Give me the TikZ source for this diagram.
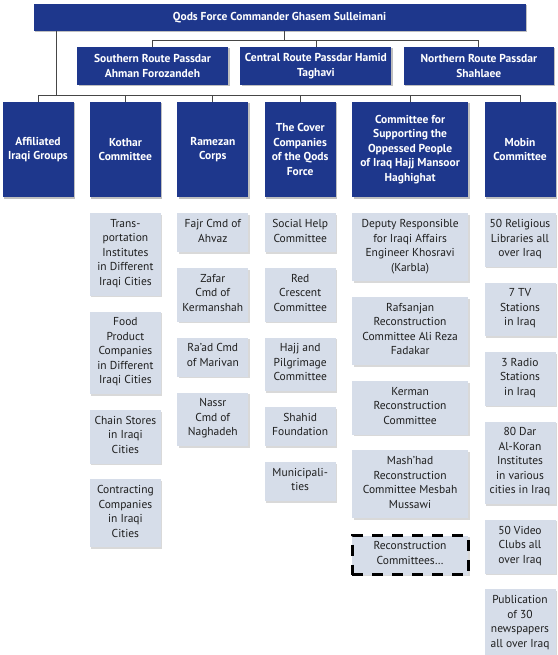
\documentclass[tikz,border=0pt]{standalone}
\usepackage{fontspec}
\setmainfont{PT Sans}
\usepackage{xcolor}
\usepackage{tikz}
\usetikzlibrary{positioning, shadows}
\definecolor{qodsnavy}{RGB}{30, 55, 140}
\definecolor{unitbg}{RGB}{214, 221, 233}
\definecolor{wiregray}{RGB}{70, 70, 70}
\definecolor{textgray}{RGB}{30, 30, 30}

\begin{document}
\begin{tikzpicture}[
    x=1pt, y=-1pt, node distance=15.5pt,
    headbox/.style={rectangle, fill=qodsnavy, text=white, align=center, inner sep=0pt, font=\fontsize{11.5}{14.5}\selectfont\bfseries, drop shadow={shadow xshift=1.5pt, shadow yshift=-1.5pt, fill=black, opacity=0.25}},
    routebox/.style={headbox, minimum width=151pt, minimum height=38pt},
    groupbox/.style={headbox, minimum width=71pt, minimum height=95pt},
    unitbox/.style={rectangle, fill=unitbg, text=textgray, align=center, inner xsep=2pt, inner ysep=6pt, minimum width=71pt, font=\fontsize{11.5}{14.5}\selectfont, execute at begin node=\strut, execute at end node=\strut, drop shadow={shadow xshift=1.5pt, shadow yshift=-1.5pt, fill=black, opacity=0.15}},
    openbox/.style={unitbox, minimum width=116pt, draw=black, line width=3pt, dash pattern=on 11pt off 9pt, drop shadow={opacity=0}},
    wire/.style={draw, wiregray, line width=0.8pt}
  ]
    \useasboundingbox (0,0) rectangle (557,655);

    % commander and the three routes
    \node (top) [headbox, minimum width=492pt, minimum height=27pt] at (279.5,17.5) {Qods Force Commander Ghasem Sulleimani};
    \node (south) [routebox] at (152.5,66) {Southern Route Passdar\\Ahman Forozandeh};
    \node (central) [routebox, right=12pt of south] {Central Route Passdar Hamid\\Taghavi};
    \node (north) [routebox, minimum width=150pt, right=12pt of central] {Northern Route Passdar\\Shahlaee};

    % the six groups
    \node (affil) [groupbox] at (38,149.5) {Affiliated\\Iraqi Groups};
    \node (kothar) [groupbox, right=16pt of affil] {Kothar\\Committee};
    \node (ramezan) [groupbox, right=16pt of kothar] {Ramezan\\Corps};
    \node (cover) [groupbox, right=16pt of ramezan] {The Cover\\Companies\\of the Qods\\Force};
    \node (csop) [groupbox, minimum width=116pt, right=16pt of cover] {Committee for\\Supporting the\\Oppessed People\\of Iraq Hajj Mansoor\\Haghighat};
    \node (mobin) [groupbox, right=16pt of csop] {Mobin\\Committee};

    % Kothar
    \node (kothar1) [unitbox, below=16pt of kothar] {Trans-\\portation\\Institutes\\in Different\\Iraqi Cities};
    \node (kothar2) [unitbox, below=of kothar1] {Food\\Product\\Companies\\in Different\\Iraqi Cities};
    \node (kothar3) [unitbox, below=of kothar2] {Chain Stores\\in Iraqi\\Cities};
    \node (kothar4) [unitbox, below=of kothar3] {Contracting\\Companies\\in Iraqi\\Cities};

    % Ramezan
    \node (ramezan1) [unitbox, below=16pt of ramezan] {Fajr Cmd of\\Ahvaz};
    \node (ramezan2) [unitbox, below=of ramezan1] {Zafar\\Cmd of\\Kermanshah};
    \node (ramezan3) [unitbox, below=of ramezan2] {Ra’ad Cmd\\of Marivan};
    \node (ramezan4) [unitbox, below=of ramezan3] {Nassr\\Cmd of\\Naghadeh};

    % cover companies
    \node (cover1) [unitbox, below=16pt of cover] {Social Help\\Committee};
    \node (cover2) [unitbox, below=of cover1] {Red\\Crescent\\Committee};
    \node (cover3) [unitbox, below=of cover2] {Hajj and\\Pilgrimage\\Committee};
    \node (cover4) [unitbox, below=of cover3] {Shahid\\Foundation};
    \node (cover5) [unitbox, below=of cover4] {Municipali-\\ties};

    % committee for the oppressed
    \node (csop1) [unitbox, minimum width=116pt, below=16pt of csop] {Deputy Responsible\\for Iraqi Affairs\\Engineer Khosravi\\(Karbla)};
    \node (csop2) [unitbox, minimum width=116pt, below=of csop1] {Rafsanjan\\Reconstruction\\Committee Ali Reza\\Fadakar};
    \node (csop3) [unitbox, minimum width=116pt, below=of csop2] {Kerman\\Reconstruction\\Committee};
    \node (csop4) [unitbox, minimum width=116pt, below=of csop3] {Mash’had\\Reconstruction\\Committee Mesbah\\Mussawi};
    \node (csop5) [openbox, below=of csop4] {Reconstruction\\Committees…};

    % Mobin
    \node (mobin1) [unitbox, below=16pt of mobin] {50 Religious\\Libraries all\\over Iraq};
    \node (mobin2) [unitbox, below=of mobin1] {7 TV\\Stations\\in Iraq};
    \node (mobin3) [unitbox, below=of mobin2] {3 Radio\\Stations\\in Iraq};
    \node (mobin4) [unitbox, below=of mobin3] {80 Dar\\Al-Koran\\Institutes\\in various\\cities in Iraq};
    \node (mobin5) [unitbox, below=of mobin4] {50 Video\\Clubs all\\over Iraq};
    \node (mobin6) [unitbox, below=of mobin5] {Publication\\of 30\\newspapers\\all over Iraq};

    % connectors
    \coordinate (fork) at (284,40);
    \coordinate (trunk) at (56,95);
    \foreach \r in {south,central,north}
      \draw[wire] (top.south -| fork) -- (fork) -| (\r.north);
    \foreach \g in {affil,kothar,ramezan,cover,csop,mobin}
      \draw[wire] (top.south -| trunk) -- (trunk) -| (\g.north);
  \end{tikzpicture}
\end{document}
